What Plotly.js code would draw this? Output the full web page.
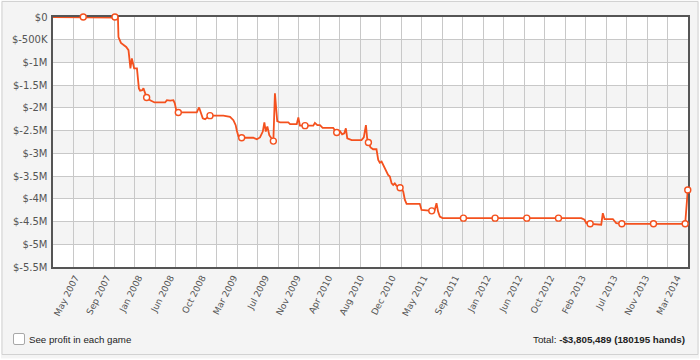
<!DOCTYPE html>
<html>
<head>
<meta charset="utf-8">
<script src="https://cdn.plot.ly/plotly-3.0.1.min.js"></script>
<style>
html,body{margin:0;padding:0;background:#fff;}
#chart{width:700px;height:360px;}
</style>
</head>
<body>
<div id="chart"></div>
<script>
// ---- data ----
var hands = [400,18000,18850,19000,19700,21200,21850,22150,22400,22800,23100,23450,24250,24500,24800,25150,25750,26100,26400,26800,27000,28000,29250,32250,32750,33700,34600,35000,35400,36000,41250,41900,42400,42950,43600,44250,45000,48800,50700,51650,52300,52600,53050,54000,57300,58300,59200,60000,60450,60850,61300,61850,62550,63000,63450,63750,64100,64900,67250,67750,69650,70100,70550,72000,74350,74800,75500,76250,77000,80000,81000,81900,82550,83150,83600,84000,85250,88050,88700,89300,89650,90000,90600,91350,92300,92800,93250,93750,94400,94950,95600,96100,96600,97050,97500,98000,99000,99400,99900,100350,100850,104600,105100,108000,108850,109350,109800,110300,111050,150500,151400,151900,153000,154750,156150,156600,157100,159450,160400,162000,180000,180735];
var profit = [0,0,-13000,-440000,-570000,-660000,-730000,-950000,-1130000,-910000,-1060000,-1130000,-1130000,-1320000,-1570000,-1620000,-1610000,-1570000,-1650000,-1720000,-1770000,-1830000,-1880000,-1880000,-1830000,-1840000,-1830000,-1900000,-2050000,-2100000,-2100000,-1990000,-2100000,-2230000,-2250000,-2210000,-2170000,-2170000,-2195000,-2270000,-2380000,-2490000,-2620000,-2656000,-2656000,-2690000,-2650000,-2520000,-2320000,-2520000,-2410000,-2600000,-2690000,-2730000,-1680000,-2050000,-2290000,-2320000,-2320000,-2355000,-2355000,-2210000,-2390000,-2390000,-2390000,-2330000,-2380000,-2380000,-2440000,-2440000,-2540000,-2510000,-2580000,-2560000,-2450000,-2670000,-2710000,-2710000,-2650000,-2380000,-2670000,-2760000,-2870000,-2910000,-2910000,-3145000,-3205000,-3180000,-3290000,-3365000,-3475000,-3510000,-3660000,-3695000,-3660000,-3715000,-3755000,-3765000,-3840000,-4020000,-4110000,-4110000,-4245000,-4265000,-4245000,-4095000,-4280000,-4390000,-4425000,-4425000,-4460000,-4535000,-4550000,-4570000,-4570000,-4315000,-4445000,-4445000,-4535000,-4550000,-4550000,-3805489];

var markerHands = [9000,18000,27000,36000,45000,54000,63000,72000,81000,90000,99000,108000,117000,126000,135000,144000,153000,162000,171000,180000,180735];
var markerProfit = [0,0,-1770000,-2100000,-2170000,-2656000,-2730000,-2390000,-2540000,-2760000,-3755000,-4265000,-4425000,-4425000,-4425000,-4425000,-4550000,-4550000,-4550000,-4550000,-3805489];

var xTickHands = [9000,18000,27000,36000,45000,54000,63000,72000,81000,90000,99000,108000,117000,126000,135000,144000,153000,162000,171000,180000];
var xTickLabels = ["May 2007","Sep 2007","Jan 2008","Jun 2008","Oct 2008","Mar 2009","Jul 2009","Nov 2009","Apr 2010","Aug 2010","Dec 2010","May 2011","Sep 2011","Jan 2012","Jun 2012","Oct 2012","Feb 2013","Jul 2013","Nov 2013","Mar 2014"];

var yTickValues = [0,-500000,-1000000,-1500000,-2000000,-2500000,-3000000,-3500000,-4000000,-4500000,-5000000,-5500000];
var yTickLabels = ["$0","$-500K","$-1M","$-1.5M","$-2M","$-2.5M","$-3M","$-3.5M","$-4M","$-4.5M","$-5M","$-5.5M"];

var totalProfitText = "-$3,805,489";
var totalHands = 180195;

// ---- styling ----
var lineColor = "#f4511e";
var xRange = [400, 180800];
var gridCount = 31;

var shapes = [];
// alternating shaded bands between the y gridlines
for (var i = 1; i < yTickValues.length - 1; i += 2) {
  shapes.push({type:"rect", xref:"paper", yref:"y", x0:0, x1:1,
    y0:yTickValues[i], y1:yTickValues[i+1], fillcolor:"#f4f4f4", line:{width:0}, layer:"below"});
}
// panel border
shapes.push({type:"rect", xref:"paper", yref:"paper", xsizemode:"pixel", ysizemode:"pixel",
  xanchor:0, yanchor:0, x0:-51, x1:645, y0:-87.5, y1:265.5,
  fillcolor:"rgba(0,0,0,0)", line:{color:"#d2d2d2", width:1}, layer:"below"});
// white strip outside the panel
shapes.push({type:"rect", xref:"paper", yref:"paper", xsizemode:"pixel", ysizemode:"pixel",
  xanchor:0, yanchor:0, x0:-53.5, x1:647.5, y0:-93, y1:268,
  fillcolor:"rgba(0,0,0,0)", line:{color:"#ffffff", width:3}, layer:"below"});
// checkbox
shapes.push({type:"path", xref:"paper", yref:"paper", xsizemode:"pixel", ysizemode:"pixel",
  xanchor:0, yanchor:0,
  path:"M-38,-66.5 L-30,-66.5 Q-28.5,-66.5 -28.5,-68 L-28.5,-76 Q-28.5,-77.5 -30,-77.5 L-38,-77.5 Q-39.5,-77.5 -39.5,-76 L-39.5,-68 Q-39.5,-66.5 -38,-66.5 Z",
  fillcolor:"#ffffff", line:{color:"#a8a8a8", width:1}, layer:"above"});

var traces = [
  {x:hands, y:profit, type:"scatter", mode:"lines", cliponaxis:false,
   line:{color:lineColor, width:1.8}, hoverinfo:"skip"},
  {x:markerHands, y:markerProfit, type:"scatter", mode:"markers", cliponaxis:false,
   marker:{size:6, color:"#ffffff", line:{color:lineColor, width:1.4}}, hoverinfo:"skip"}
];

var layout = {
  width:700, height:360,
  margin:{l:53, r:11.5, t:17, b:92.5, pad:0},
  paper_bgcolor:"#f4f4f4",
  plot_bgcolor:"#ffffff",
  showlegend:false,
  font:{family:"DejaVu Sans, Verdana, sans-serif", size:10, color:"#555"},
  xaxis:{
    range:xRange, type:"linear", fixedrange:true,
    tickmode:"array", tickvals:xTickHands, ticktext:xTickLabels,
    tickangle:-63, ticklabelshift:-8, ticks:"", showgrid:false, zeroline:false,
    showline:true, linecolor:"#555", linewidth:2, mirror:true, layer:"below traces",
    tickfont:{family:"DejaVu Sans, Verdana, sans-serif", size:9, color:"#555"},
    minor:{showgrid:true, tick0:xRange[0], dtick:(xRange[1]-xRange[0])/gridCount,
           gridcolor:"#c8c8c8", gridwidth:1, ticks:""}
  },
  yaxis:{
    range:[yTickValues[yTickValues.length-1], yTickValues[0]], fixedrange:true,
    tickmode:"array", tickvals:yTickValues, ticktext:yTickLabels,
    ticks:"outside", ticklen:1.5, tickcolor:"rgba(0,0,0,0)",
    showgrid:true, gridcolor:"#c8c8c8", gridwidth:1, zeroline:false,
    showline:true, linecolor:"#555", linewidth:2, mirror:true, layer:"below traces",
    tickfont:{family:"DejaVu Sans, Verdana, sans-serif", size:10, color:"#555"}
  },
  shapes:shapes,
  annotations:[
    {xref:"paper", yref:"paper", x:0, y:0, xshift:-26, yshift:-72, xanchor:"left", yanchor:"middle",
     showarrow:false, text:"See profit in each game",
     font:{family:"Liberation Sans, Arial, sans-serif", size:9.7, color:"#222"}},
    {xref:"paper", yref:"paper", x:1, y:0, xshift:-1.5, yshift:-72, xanchor:"right", yanchor:"middle",
     showarrow:false, text:"Total: <b>" + totalProfitText + " (" + totalHands + " hands)</b>",
     font:{family:"Liberation Sans, Arial, sans-serif", size:9.8, color:"#222"}}
  ]
};

Plotly.newPlot("chart", traces, layout, {displayModeBar:false, staticPlot:true});
</script>
</body>
</html>
